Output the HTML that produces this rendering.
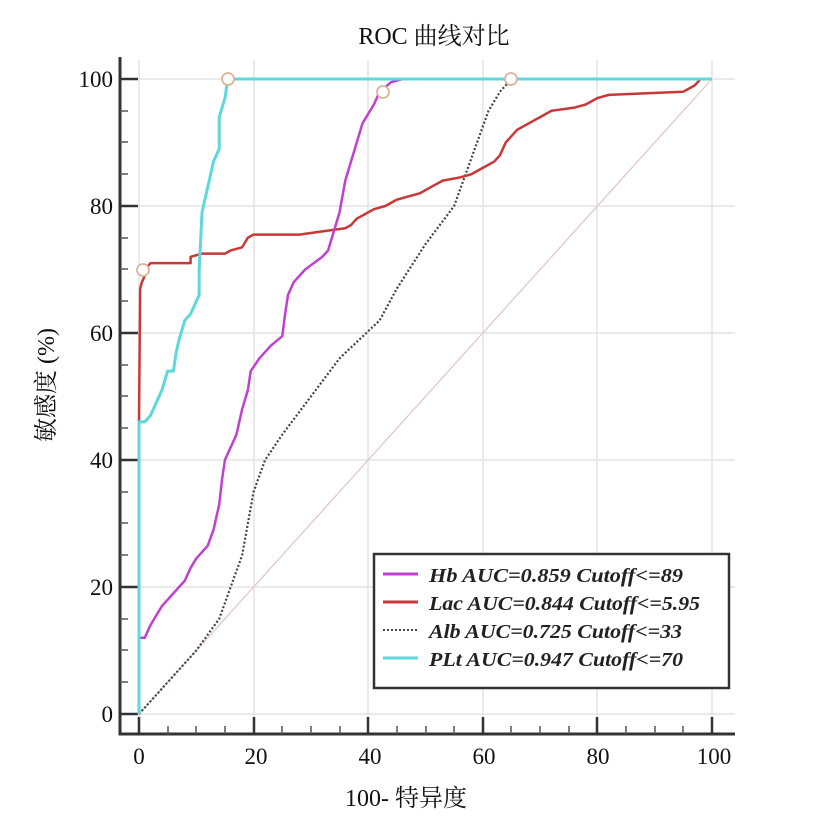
<!DOCTYPE html>
<html><head><meta charset="utf-8"><style>
body{margin:0;background:#fff}
svg text{font-family:"Liberation Serif","Noto Serif CJK SC",serif}
</style></head><body>
<svg width="822" height="817" viewBox="0 0 822 817" xmlns="http://www.w3.org/2000/svg">
<rect width="822" height="817" fill="#fff"/>
<text x="434" y="44" font-size="24" text-anchor="middle" fill="#111">ROC 曲线对比</text>
<g stroke="#e4e4e4" stroke-width="1.5">
<line x1="139" y1="60" x2="139" y2="733"/><line x1="254" y1="60" x2="254" y2="733"/><line x1="368" y1="60" x2="368" y2="733"/><line x1="483" y1="60" x2="483" y2="733"/><line x1="597" y1="60" x2="597" y2="733"/><line x1="712" y1="60" x2="712" y2="733"/>
<line x1="120" y1="79" x2="735" y2="79"/><line x1="120" y1="206" x2="735" y2="206"/><line x1="120" y1="333" x2="735" y2="333"/><line x1="120" y1="460" x2="735" y2="460"/><line x1="120" y1="587" x2="735" y2="587"/><line x1="120" y1="714" x2="735" y2="714"/>
</g>
<g stroke="#333" stroke-width="3" fill="none"><polyline points="120,57 120,734 735,734"/></g>
<g stroke="#333" stroke-width="2.5">
<line x1="120" y1="79" x2="138" y2="79"/><line x1="120" y1="206" x2="138" y2="206"/><line x1="120" y1="333" x2="138" y2="333"/><line x1="120" y1="460" x2="138" y2="460"/><line x1="120" y1="587" x2="138" y2="587"/><line x1="120" y1="714" x2="138" y2="714"/>
<line x1="139" y1="734" x2="139" y2="717"/><line x1="254" y1="734" x2="254" y2="717"/><line x1="368" y1="734" x2="368" y2="717"/><line x1="483" y1="734" x2="483" y2="717"/><line x1="597" y1="734" x2="597" y2="717"/><line x1="712" y1="734" x2="712" y2="717"/>
</g>
<g stroke="#555" stroke-width="1.5">
<line x1="120" y1="111" x2="128" y2="111"/><line x1="120" y1="142" x2="128" y2="142"/><line x1="120" y1="174" x2="128" y2="174"/><line x1="120" y1="238" x2="128" y2="238"/><line x1="120" y1="269" x2="128" y2="269"/><line x1="120" y1="301" x2="128" y2="301"/><line x1="120" y1="365" x2="128" y2="365"/><line x1="120" y1="396" x2="128" y2="396"/><line x1="120" y1="428" x2="128" y2="428"/><line x1="120" y1="492" x2="128" y2="492"/><line x1="120" y1="523" x2="128" y2="523"/><line x1="120" y1="555" x2="128" y2="555"/><line x1="120" y1="619" x2="128" y2="619"/><line x1="120" y1="650" x2="128" y2="650"/><line x1="120" y1="682" x2="128" y2="682"/>
<line x1="168" y1="734" x2="168" y2="726"/><line x1="196" y1="734" x2="196" y2="726"/><line x1="225" y1="734" x2="225" y2="726"/><line x1="282" y1="734" x2="282" y2="726"/><line x1="311" y1="734" x2="311" y2="726"/><line x1="340" y1="734" x2="340" y2="726"/><line x1="397" y1="734" x2="397" y2="726"/><line x1="426" y1="734" x2="426" y2="726"/><line x1="454" y1="734" x2="454" y2="726"/><line x1="511" y1="734" x2="511" y2="726"/><line x1="540" y1="734" x2="540" y2="726"/><line x1="569" y1="734" x2="569" y2="726"/><line x1="626" y1="734" x2="626" y2="726"/><line x1="655" y1="734" x2="655" y2="726"/><line x1="683" y1="734" x2="683" y2="726"/>
</g>
<g font-size="23" fill="#111" text-anchor="end">
<text x="113" y="87">100</text><text x="113" y="214">80</text><text x="113" y="341">60</text><text x="113" y="468">40</text><text x="113" y="595">20</text><text x="113" y="722">0</text>
</g>
<g font-size="23" fill="#111" text-anchor="middle">
<text x="139" y="764">0</text><text x="256" y="764">20</text><text x="370" y="764">40</text><text x="484" y="764">60</text><text x="598" y="764">80</text><text x="714" y="764">100</text>
</g>
<text x="406" y="806" font-size="24" text-anchor="middle" fill="#111">100- 特异度</text>
<text transform="translate(54,385) rotate(-90)" font-size="24" text-anchor="middle" fill="#111">敏感度 (%)</text>
<g transform="translate(139,714) scale(5.73,-6.35)" fill="none" stroke-linejoin="round">
<line x1="0" y1="0" x2="100" y2="100" stroke="#e2c8c8" stroke-width="1.3" vector-effect="non-scaling-stroke"/>
<polyline vector-effect="non-scaling-stroke" stroke="#444" stroke-width="2.2" stroke-dasharray="2,2" points="0,0 2,2 5,5 10,10 14,15 16,20 18,25 19,30 20,35 22,40 25,44 30,50 35,56 42,62 45,67 50,74 55,80 57,85 59,90 61,95 63,98 65,100 100,100"/>
<polyline vector-effect="non-scaling-stroke" stroke="#c83838" stroke-width="2.5" points="0,0 0,46 0.2,67 0.5,68 1,69 1,70 2,71 9,71 9,72 11,72.5 15,72.5 16,73 18,73.5 19,75 20,75.5 28,75.5 32,76 36,76.5 37,77 38,78 40,79 41,79.5 43,80 45,81 47,81.5 49,82 51,83 53,84 56,84.5 58,85 60,86 62,87 63,88 64,90 66,92 68,93 70,94 72,95 76,95.5 78,96 80,97 82,97.5 95,98 97,99 98,100 100,100"/>
<polyline vector-effect="non-scaling-stroke" stroke="#c040d0" stroke-width="2.5" points="0,12 1,12 2,14 4,17 6,19 8,21 9,23 10,24.5 12,26.5 13,29 14,33 14.5,37 15,40 16,42 17,44 18,48 19,51 19.5,54 21,56 23,58 25,59.5 25.5,63 26,66 27,68 29,70 32,72 33,73 34,76 35,79 36,84 37,87 38,90 39,93 41,96 42,98 44,99.5 46,100 100,100"/>
<polyline vector-effect="non-scaling-stroke" stroke="#5ed8dc" stroke-width="3" points="0,0 0,46 1,46 2,47 3,49 4,51 5,54 6,54 6.5,57 7,59 8,62 9,63 10,65 10.5,66 10.5,70 11,79 12,83 13,87 14,89 14,94 15,97 15.5,100 100,100"/>
</g>
<g fill="#fff" stroke="#d9b49a" stroke-width="1.8">
<circle cx="143" cy="270" r="6"/><circle cx="228" cy="79" r="6"/><circle cx="383" cy="92" r="6"/><circle cx="511" cy="79" r="6"/>
</g>
<rect x="374" y="554" width="355" height="134" fill="#fff" stroke="#333" stroke-width="2.5"/>
<g stroke-width="3">
<line x1="383" y1="574" x2="418" y2="574" stroke="#c040d0"/>
<line x1="383" y1="602" x2="418" y2="602" stroke="#c83838"/>
<line x1="383" y1="630" x2="418" y2="630" stroke="#444" stroke-width="2" stroke-dasharray="2,2"/>
<line x1="383" y1="658" x2="418" y2="658" stroke="#5ed8dc"/>
</g>
<g font-size="20" font-weight="bold" font-style="italic" fill="#222" lengthAdjust="spacingAndGlyphs">
<text x="429" y="582" textLength="254" lengthAdjust="spacingAndGlyphs">Hb  AUC=0.859 Cutoff&lt;=89</text>
<text x="429" y="610" textLength="271" lengthAdjust="spacingAndGlyphs">Lac AUC=0.844 Cutoff&lt;=5.95</text>
<text x="429" y="638" textLength="253" lengthAdjust="spacingAndGlyphs">Alb AUC=0.725 Cutoff&lt;=33</text>
<text x="429" y="666" textLength="254" lengthAdjust="spacingAndGlyphs">PLt AUC=0.947 Cutoff&lt;=70</text>
</g>
</svg>
</body></html>
